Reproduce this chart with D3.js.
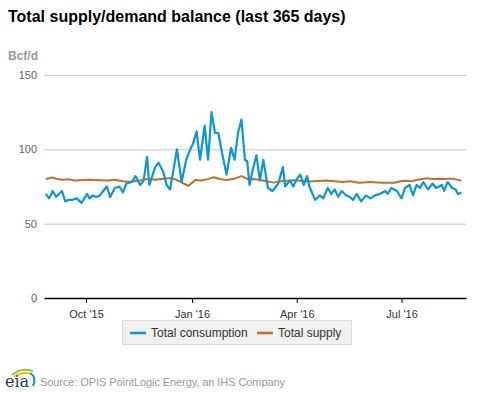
<!DOCTYPE html>
<html>
<head>
<meta charset="utf-8">
<script src="https://cdn.jsdelivr.net/npm/d3@7"></script>
<style>
  body { margin: 0; background: #fff; }
  svg { font-family: "Liberation Sans", Arial, sans-serif; }
</style>
</head>
<body>
<div id="chart"></div>
<script>
// data: days after the start date
var startDate = new Date(2015, 7, 27);

var consumptionDay = [0, 1, 3, 6, 9, 14, 17, 20, 23, 27, 31, 36, 38, 41, 44, 47, 50, 53, 56, 60, 64, 67, 70, 75, 78, 82, 85, 88, 90, 95, 98, 102, 105, 108, 114, 118, 122, 125, 128, 131, 134, 138, 141, 144, 147, 150, 153, 157, 161, 164, 167, 170, 173, 175, 177, 180, 183, 186, 189, 193, 197, 202, 206, 208, 212, 215, 218, 221, 224, 227, 229, 234, 238, 241, 245, 248, 251, 254, 257, 261, 264, 267, 270, 274, 278, 282, 286, 290, 295, 297, 300, 305, 309, 312, 316, 319, 322, 325, 328, 332, 336, 339, 344, 346, 349, 353, 356, 358, 361];
var consumption = [70, 69, 67, 72, 68, 72, 65, 66, 66, 67, 64, 70, 67, 69, 68, 69, 72, 75, 68, 74, 75, 71, 77, 78, 82, 76, 79, 95, 76, 88, 91, 85, 76, 73, 100, 78, 93, 99, 104, 112, 93, 116, 93, 125, 111, 111, 98, 83, 101, 93, 111, 120, 93, 92, 76, 87, 96, 79, 93, 74, 72, 77, 88, 75, 79, 75, 80, 83, 76, 82, 75, 66, 69, 67, 74, 70, 73, 68, 72, 69, 68, 66, 70, 65, 69, 67, 69, 70, 72, 70, 74, 72, 67, 74, 76, 69, 76, 74, 78, 73, 77, 74, 76, 72, 78, 74, 73, 70, 71];

var supplyDay = [0, 3, 5, 10, 15, 20, 25, 32, 38, 47, 54, 60, 67, 73, 82, 88, 95, 101, 108, 112, 117, 121, 124, 130, 135, 140, 146, 151, 157, 163, 170, 176, 181, 186, 192, 198, 204, 209, 215, 221, 228, 237, 244, 251, 258, 264, 272, 282, 292, 303, 308, 313, 318, 322, 327, 331, 336, 342, 347, 351, 356, 361];
var supply = [80, 80.5, 81, 80, 79.5, 79.8, 79, 79.4, 79.5, 79.2, 79, 79.5, 78.5, 78.2, 79, 80, 79.5, 80, 80.7, 80, 78.2, 76.5, 75.5, 79.4, 79, 79.8, 81.2, 80, 79.4, 80, 82, 79.8, 80, 79.4, 78.5, 77.6, 78.5, 78.9, 79.2, 78.9, 78.4, 78.7, 79, 78.5, 78, 78.5, 77.5, 78, 77.5, 77.5, 78.5, 78.9, 78.5, 79.4, 80, 80.5, 80, 80.2, 80, 80.3, 79.8, 78.9];

var yTicks = [0, 50, 100, 150];
var xTicks = [new Date(2015, 9, 1), new Date(2016, 0, 1), new Date(2016, 3, 1), new Date(2016, 6, 1)];
var seriesNames = ["Total consumption", "Total supply"];
var seriesColors = ["#0a97d5", "#c0722c"];

var W = 477, H = 393;
var margin = {top: 75, right: 11, bottom: 95, left: 44},
    width = W - margin.left - margin.right,
    height = H - margin.top - margin.bottom;

var svg = d3.select("#chart").append("svg")
    .attr("width", W)
    .attr("height", H);

svg.append("text")
    .attr("x", 8).attr("y", 22)
    .style("font-size", "16px").style("font-weight", "bold")
    .attr("fill", "#000")
    .text("Total supply/demand balance (last 365 days)");

svg.append("text")
    .attr("x", 8).attr("y", 60)
    .style("font-size", "12px").style("font-weight", "bold")
    .attr("fill", "#999")
    .text("Bcf/d");

var g = svg.append("g")
    .attr("transform", "translate(" + margin.left + "," + margin.top + ")");

var x = d3.scaleTime()
    .domain([new Date(2015, 7, 25, 12), new Date(2016, 7, 26)])
    .range([0, width]);

var y = d3.scaleLinear()
    .domain([0, 150])
    .range([height, 0]);

// gridlines + y labels
var yAxis = g.append("g")
    .call(d3.axisLeft(y).tickValues(yTicks).tickSize(-width).tickPadding(7));
yAxis.select(".domain").remove();
yAxis.selectAll(".tick line").attr("stroke", "#c8c8c8");
yAxis.selectAll(".tick text")
    .attr("fill", "#666")
    .style("font-size", "11px")
    .style("font-family", "Liberation Sans, Arial, sans-serif");

var xAxis = g.append("g")
    .attr("transform", "translate(0," + height + ")")
    .call(d3.axisBottom(x).tickValues(xTicks).tickSize(5).tickSizeOuter(0)
      .tickFormat(d3.timeFormat("%b '%y")));
xAxis.select(".domain").attr("stroke", "#000").attr("stroke-width", 1.3);
xAxis.selectAll(".tick line").attr("stroke", "#000");
xAxis.selectAll(".tick text")
    .attr("fill", "#333")
    .attr("dy", "1.05em")
    .style("font-size", "11px")
    .style("font-family", "Liberation Sans, Arial, sans-serif");

function toPoints(days, vals) {
  return days.map(function(d, i) {
    return {date: d3.timeDay.offset(startDate, d), v: vals[i]};
  });
}

var line = d3.line()
    .x(function(d) { return x(d.date); })
    .y(function(d) { return y(d.v); });

g.append("path")
    .datum(toPoints(supplyDay, supply))
    .attr("fill", "none")
    .attr("stroke", seriesColors[1])
    .attr("stroke-width", 2)
    .attr("stroke-linejoin", "round")
    .attr("d", line);

g.append("path")
    .datum(toPoints(consumptionDay, consumption))
    .attr("fill", "none")
    .attr("stroke", seriesColors[0])
    .attr("stroke-width", 2.2)
    .attr("stroke-linejoin", "round")
    .attr("d", line);

// legend
var legend = svg.append("g").attr("transform", "translate(122,320)");
legend.append("rect")
    .attr("x", 0.5).attr("y", 0.5)
    .attr("width", 229).attr("height", 24)
    .attr("fill", "#f0f0f0")
    .attr("stroke", "#dcdcdc");

var legendX = [8, 135];
seriesNames.forEach(function(name, i) {
  var item = legend.append("g").attr("transform", "translate(" + legendX[i] + ",0)");
  item.append("line")
      .attr("x1", 0).attr("x2", 16)
      .attr("y1", 13).attr("y2", 13)
      .attr("stroke", seriesColors[i])
      .attr("stroke-width", 2.5);
  item.append("text")
      .attr("x", 21).attr("y", 17)
      .style("font-size", "12px")
      .attr("fill", "#333")
      .text(name);
});

// eia logo
var logo = svg.append("g").attr("transform", "translate(4,366)");
logo.append("path")
    .attr("d", "M8,9 Q17,1 29,5")
    .attr("fill", "none").attr("stroke", "#8dc63f").attr("stroke-width", 2);
logo.append("path")
    .attr("d", "M10,11 Q18,5 28,8")
    .attr("fill", "none").attr("stroke", "#f3c300").attr("stroke-width", 1.8);
logo.append("path")
    .attr("d", "M26,7 Q33,11 29,20")
    .attr("fill", "none").attr("stroke", "#1e88c8").attr("stroke-width", 2);
logo.append("text")
    .attr("x", 1).attr("y", 21)
    .style("font-family", "DejaVu Serif, serif")
    .style("font-size", "16px")
    .attr("fill", "#1f3a6e")
    .text("eia");

svg.append("text")
    .attr("x", 40).attr("y", 386)
    .style("font-size", "11px")
    .attr("textLength", 245)
    .attr("fill", "#999")
    .text("Source: OPIS PointLogic Energy, an IHS Company");
</script>
</body>
</html>
